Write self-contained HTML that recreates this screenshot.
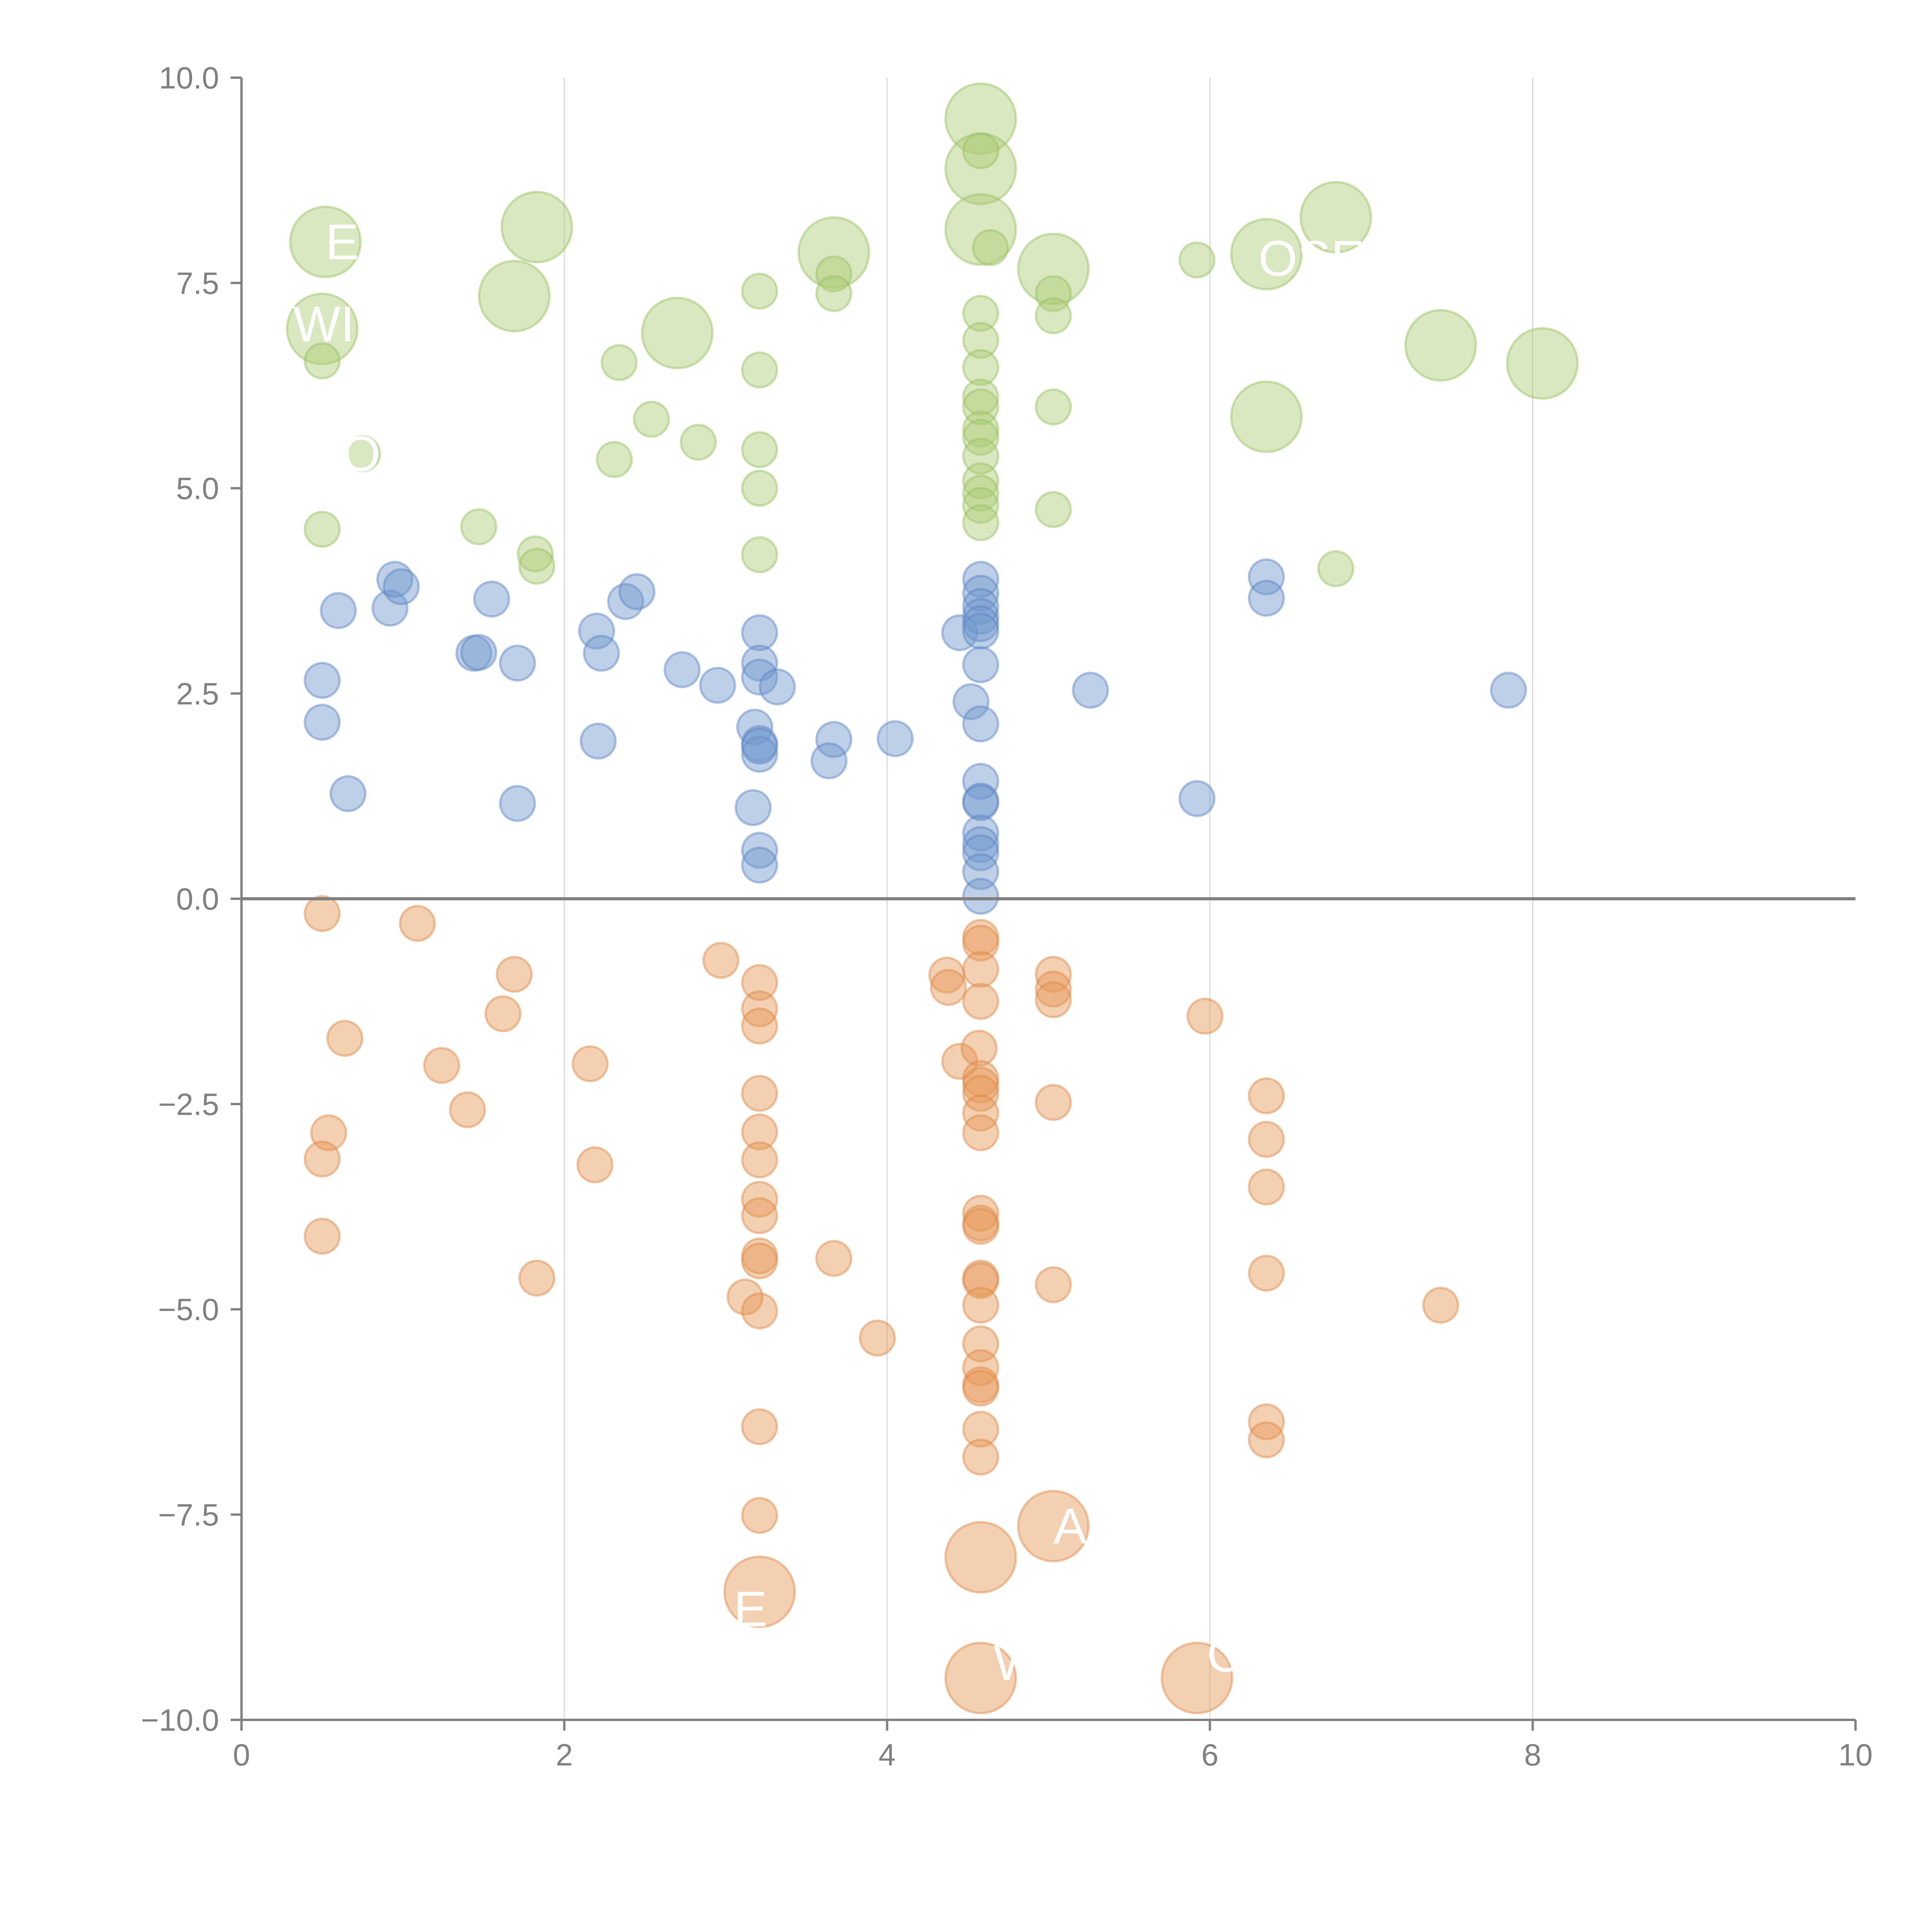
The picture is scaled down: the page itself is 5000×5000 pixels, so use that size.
<!DOCTYPE html>
<html><head><meta charset="utf-8"><style>
html,body{margin:0;padding:0;background:#fff;}
svg{display:block;font-family:"Liberation Sans",Arial,sans-serif;}
</style></head><body>
<svg id="chart" width="5000" height="5000" viewBox="0 0 5000 5000" xmlns="http://www.w3.org/2000/svg">
<g id="grid"></g>
<g id="marks"></g>
<g id="axes"></g>
<g id="labels"></g>
</svg>
<script>
const xTicks=[0,2,4,6,8,10];
const yTicks=[-10,-7.5,-5,-2.5,0,2.5,5,7.5,10];
const yTickLabels=["−10.0","−7.5","−5.0","−2.5","0.0","2.5","5.0","7.5","10.0"];
const greenX=[0.52,0.50,0.50,0.75,0.50,1.47,1.69,1.83,1.82,1.83,2.34,2.31,2.54,2.70,2.83,3.21,3.21,3.21,3.21,3.21,3.67,3.67,3.67,4.58,4.58,4.58,4.58,4.64,4.58,4.58,4.58,4.58,4.58,4.58,4.58,4.58,4.58,4.58,4.58,4.58,5.03,5.03,5.03,5.03,5.03,5.92,6.35,6.35,6.78,6.78,7.43,8.06];
const greenY=[8.00,6.94,6.55,5.42,4.50,4.53,7.34,8.18,4.20,4.05,6.53,5.35,5.84,6.89,5.56,7.40,6.44,5.47,5.00,4.19,7.87,7.61,7.37,9.50,8.89,8.15,9.11,7.93,7.13,6.80,6.47,6.11,5.99,5.72,5.62,5.39,5.09,4.94,4.79,4.58,7.67,7.37,7.10,5.99,4.74,7.78,7.85,5.87,8.30,4.02,6.74,6.52];
const greenS=[2,2,1,1,1,1,2,2,1,1,1,1,1,2,1,1,1,1,1,1,2,1,1,2,2,2,1,1,1,1,1,1,1,1,1,1,1,1,1,1,2,1,1,1,1,1,2,2,2,1,2,2];
const blueX=[0.60,0.50,0.50,0.66,0.92,0.95,0.99,1.44,1.47,1.55,1.71,1.71,2.20,2.23,2.21,2.38,2.45,2.73,2.95,3.21,3.21,3.21,3.18,3.32,3.21,3.21,3.21,3.17,3.21,3.21,3.67,3.64,4.05,4.45,4.52,4.58,4.58,4.58,4.58,4.58,4.58,4.58,4.58,4.58,4.58,4.58,4.58,4.58,4.58,4.58,4.58,5.26,5.92,6.35,6.35,7.85];
const blueY=[3.51,2.66,2.15,1.28,3.54,3.89,3.80,2.99,3.00,3.65,2.87,1.16,3.26,2.99,1.92,3.62,3.74,2.79,2.60,3.24,2.87,2.70,2.09,2.58,1.89,1.76,1.86,1.11,0.59,0.41,1.94,1.68,1.95,3.24,2.40,3.89,3.72,3.56,3.44,3.35,3.26,2.85,2.13,1.43,1.19,1.17,0.80,0.66,0.56,0.33,0.03,2.54,1.22,3.92,3.66,2.54];
const orangeX=[0.50,1.09,1.69,1.62,0.64,1.24,1.40,0.54,0.50,0.50,1.83,2.16,2.19,2.97,3.21,3.21,3.21,3.21,3.21,3.21,3.21,3.21,3.21,3.21,3.12,3.21,3.21,3.21,3.21,3.67,3.94,4.37,4.38,4.45,4.58,4.58,4.58,4.58,4.57,4.58,4.58,4.58,4.58,4.58,4.58,4.58,4.58,4.58,4.58,4.58,4.58,4.58,4.58,4.58,4.58,4.58,4.58,4.58,5.03,5.03,5.03,5.03,5.03,5.03,5.97,5.92,6.35,6.35,6.35,6.35,6.35,6.35,7.43];
const orangeY=[-0.18,-0.30,-0.92,-1.40,-1.70,-2.03,-2.57,-2.85,-3.17,-4.11,-4.62,-2.01,-3.24,-0.75,-1.02,-1.34,-1.55,-2.37,-2.84,-3.18,-3.66,-3.86,-4.35,-4.41,-4.85,-5.02,-6.43,-7.51,-8.44,-4.38,-5.35,-0.93,-1.08,-1.98,-0.47,-0.54,-0.86,-1.25,-1.82,-2.19,-2.27,-2.37,-2.61,-2.85,-3.83,-3.95,-3.99,-4.62,-4.65,-4.95,-5.42,-5.71,-5.92,-5.96,-6.46,-6.80,-8.02,-9.49,-0.92,-1.10,-1.23,-2.48,-4.70,-7.64,-1.43,-9.49,-2.40,-2.93,-3.51,-4.56,-6.37,-6.59,-4.95];
const orangeS=[1,1,1,1,1,1,1,1,1,1,1,1,1,1,1,1,1,1,1,1,1,1,1,1,1,1,1,1,2,1,1,1,1,1,1,1,1,1,1,1,1,1,1,1,1,1,1,1,1,1,1,1,1,1,1,1,2,2,1,1,1,1,1,2,1,2,1,1,1,1,1,1,1];
const labelText=["E","WI","OA","OSE","A","E","W","C"];
const labelX=[0.52,0.32,0.62,6.30,5.03,3.05,4.66,5.98];
const labelY=[8.00,7.00,5.42,7.80,-7.64,-8.65,-9.30,-9.20];

const NS="http://www.w3.org/2000/svg";
const X0=625,X1=4802,Y0=4451,Y1=201;
const sx=v=>X0+(v-0)/(10-0)*(X1-X0);
const sy=v=>Y0-(v+10)/20*(Y0-Y1);
function mk(tag,attrs,parent){const e=document.createElementNS(NS,tag);for(const k in attrs)e.setAttribute(k,attrs[k]);parent.appendChild(e);return e;}
const grid=document.getElementById('grid'),marks=document.getElementById('marks'),axes=document.getElementById('axes'),labels=document.getElementById('labels');
xTicks.forEach(t=>{if(t===0||t===10)return;
 const l=mk('line',{x1:sx(t),x2:sx(t),y1:Y1,y2:Y0,stroke:'#d9d9d9','stroke-width':3},grid);
 
 });
function series(xs,ys,ss,fill,stroke,name){
 xs.forEach((x,i)=>{const r=ss[i]===2?91:45;
  const c=mk('circle',{cx:sx(x),cy:sy(ys[i]),r:r,fill:fill,stroke:stroke,'stroke-width':6},marks);
  
  });}
series(greenX,greenY,greenS,'rgba(170,204,115,0.45)','rgba(150,190,95,0.45)','green-bubble');
series(blueX,blueY,blueX.map(()=>1),'rgba(110,150,205,0.45)','rgba(90,130,195,0.45)','blue-bubble');
series(orangeX,orangeY,orangeS,'rgba(230,150,85,0.45)','rgba(220,135,70,0.45)','orange-bubble');
let a=mk('line',{x1:X0,x2:X0,y1:Y1,y2:Y0,stroke:'#808080','stroke-width':6},axes);

a=mk('line',{x1:X0-25,x2:X1,y1:Y0,y2:Y0,stroke:'#808080','stroke-width':6},axes);

a=mk('line',{x1:X0,x2:X1,y1:sy(0),y2:sy(0),stroke:'#808080','stroke-width':8},axes);

yTicks.forEach((t,i)=>{
 const tk=mk('line',{x1:X0-28,x2:X0,y1:sy(t),y2:sy(t),stroke:'#808080','stroke-width':6},axes);
 
 const tx=mk('text',{x:X0-58,y:sy(t)+28,'text-anchor':'end','font-size':80,fill:'#808080'},axes);
 tx.textContent=yTickLabels[i];
 });
xTicks.forEach(t=>{
 const tk=mk('line',{x1:sx(t),x2:sx(t),y1:Y0,y2:Y0+28,stroke:'#808080','stroke-width':6},axes);
 
 const tx=mk('text',{x:sx(t),y:Y0+118,'text-anchor':'middle','font-size':80,fill:'#808080'},axes);
 tx.textContent=String(t);
 });
labelText.forEach((s,i)=>{
 const tx=mk('text',{x:sx(labelX[i]),y:sy(labelY[i])+45,'font-size':130,fill:'#ffffff'},labels);
 tx.textContent=s;
 });
</script>
</body></html>
